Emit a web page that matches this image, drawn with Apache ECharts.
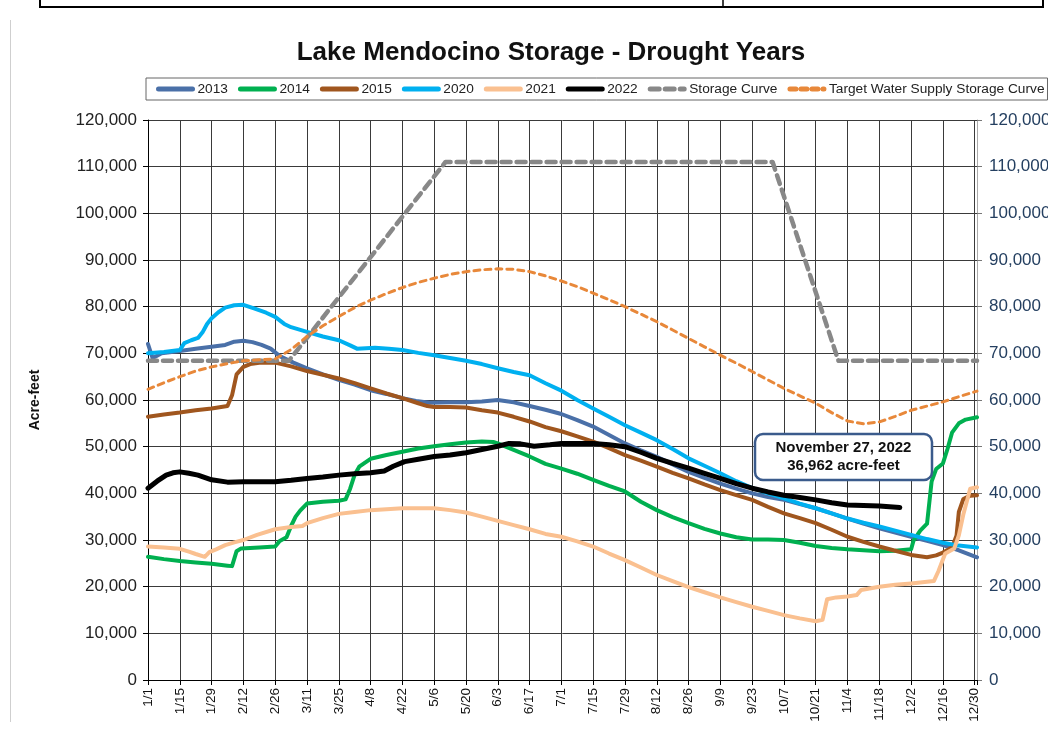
<!DOCTYPE html>
<html><head><meta charset="utf-8">
<script src="https://cdn.jsdelivr.net/npm/echarts@6/dist/echarts.min.js"></script>
<style>html,body{margin:0;padding:0;background:#fff}#c{width:1048px;height:729px}</style>
</head><body><div id="c"></div><script>
// x values are day-of-year offsets from 1/1 (leap-year calendar, ticks every 14 days)
const tickLabels = ['1/1','1/15','1/29','2/12','2/26','3/11','3/25','4/8','4/22','5/6','5/20','6/3','6/17','7/1','7/15','7/29','8/12','8/26','9/9','9/23','10/7','10/21','11/4','11/18','12/2','12/16','12/30'];
const seriesNames = ['2013','2014','2015','2020','2021','2022','Storage Curve','Target Water Supply Storage Curve'];

const s2013 = [[0,72000],[1,70500],[2,69000],[4,69500],[6,70000],[14,70500],[21,71000],[28,71400],[34,71800],[38,72500],[42,72700],[46,72400],[50,71800],[54,71000],[58,69400],[64,68000],[70,66800],[77,65500],[84,64300],[91,63300],[98,62100],[105,61300],[112,60400],[118,59800],[124,59400],[133,59500],[140,59500],[147,59700],[154,60000],[161,59500],[168,58700],[175,57900],[182,57000],[189,55700],[196,54300],[203,52500],[210,50700],[217,49200],[224,47800],[231,46200],[238,44600],[245,43300],[252,42100],[259,41000],[266,40000],[273,39200],[280,38600],[287,37700],[294,36800],[301,35700],[308,34600],[315,33500],[322,32500],[329,31600],[336,30700],[343,29800],[350,28900],[357,27800],[365,26300]];
const s2014 = [[0,26400],[7,25900],[14,25500],[21,25200],[28,24900],[35,24500],[37,24400],[39,27600],[41,28200],[49,28400],[56,28600],[58,29800],[61,30600],[63,33000],[65,35000],[67,36300],[70,37800],[77,38200],[84,38400],[87,38700],[89,41000],[91,44000],[93,45700],[98,47400],[105,48200],[112,48900],[119,49600],[126,50100],[133,50500],[140,50900],[147,51100],[152,51000],[154,50700],[161,49300],[168,47900],[175,46300],[182,45300],[189,44200],[196,42900],[203,41600],[210,40400],[217,38200],[224,36400],[231,34900],[238,33600],[245,32400],[252,31400],[259,30600],[266,30100],[273,30100],[280,30000],[287,29400],[294,28700],[301,28300],[308,28000],[315,27800],[322,27600],[329,27700],[336,28000],[337,29800],[340,32000],[343,33500],[345,42500],[347,45200],[350,46400],[352,49500],[354,53000],[357,55000],[360,55800],[365,56300]];
const s2015 = [[0,56400],[7,56900],[14,57300],[21,57800],[28,58200],[35,58700],[37,61000],[39,65500],[42,67100],[45,67700],[49,68000],[56,68000],[63,67200],[70,66200],[77,65400],[84,64600],[91,63600],[98,62500],[105,61400],[112,60400],[119,59300],[123,58700],[126,58500],[133,58500],[140,58400],[147,57800],[154,57300],[161,56400],[168,55400],[175,54200],[182,53300],[189,52200],[196,51100],[203,49700],[210,48200],[217,47000],[224,45700],[231,44400],[238,43200],[245,41900],[252,40700],[259,39600],[266,38600],[273,37100],[280,35700],[287,34700],[294,33600],[301,32200],[308,30700],[315,29600],[322,28600],[329,27700],[336,26800],[343,26300],[347,26700],[350,27300],[354,28400],[356,31000],[357,36000],[359,38800],[362,39500],[365,39600]];
const s2020 = [[0,70000],[7,70300],[14,70700],[16,72200],[19,72800],[22,73300],[24,74500],[26,76300],[28,77500],[31,78800],[34,79800],[38,80300],[42,80400],[47,79600],[52,78700],[56,77800],[60,76300],[63,75600],[70,74600],[77,73600],[84,72800],[89,71700],[92,71000],[96,71100],[100,71200],[106,71000],[112,70700],[119,70100],[126,69600],[133,69000],[140,68400],[147,67700],[154,66800],[161,66000],[168,65300],[175,63600],[182,62000],[189,60000],[196,58200],[203,56400],[210,54600],[217,53000],[224,51400],[231,49500],[238,47500],[245,45900],[252,44300],[259,42600],[266,41100],[273,40000],[280,38900],[287,37800],[294,36800],[301,35700],[308,34600],[315,33700],[322,32900],[329,32000],[336,31100],[343,30200],[350,29400],[357,28800],[365,28400]];
const s2021 = [[0,28600],[7,28400],[14,28100],[18,27500],[21,27000],[25,26400],[27,27400],[30,28000],[34,28900],[38,29500],[42,30000],[48,31100],[56,32300],[63,32800],[68,33000],[70,33600],[77,34700],[84,35600],[91,36000],[98,36400],[105,36600],[112,36800],[119,36800],[126,36800],[133,36400],[140,35900],[147,35000],[154,34100],[161,33200],[168,32300],[175,31300],[182,30700],[189,29700],[196,28600],[203,27100],[210,25700],[217,24100],[224,22500],[231,21200],[238,19900],[245,18800],[252,17700],[259,16700],[266,15700],[273,14800],[280,13900],[287,13200],[294,12600],[297,12900],[299,17300],[303,17700],[308,17900],[312,18200],[314,19300],[322,20000],[329,20400],[336,20700],[342,21000],[346,21200],[348,23300],[351,27100],[355,28200],[357,31000],[359,35500],[362,41000],[365,41300]];
const s2022 = [[0,41100],[4,42600],[8,43900],[11,44400],[14,44600],[18,44300],[22,43900],[28,42900],[35,42400],[42,42500],[49,42500],[56,42500],[63,42800],[70,43200],[77,43500],[84,43900],[91,44200],[98,44400],[104,44800],[108,45800],[113,46800],[119,47300],[126,47900],[133,48200],[140,48700],[147,49400],[154,50100],[159,50700],[164,50600],[170,50100],[177,50400],[182,50700],[189,50700],[196,50700],[203,50400],[210,50000],[217,48800],[224,47500],[231,46400],[238,45400],[245,44300],[252,43200],[259,42100],[266,41100],[273,40300],[280,39600],[287,39100],[294,38600],[301,38000],[308,37500],[315,37400],[322,37300],[331,36962]];
const sStorage = [[0,68400],[62,68400],[131,111000],[275,111000],[304,68400],[365,68400]];
const sTarget = [[0,62300],[7,63700],[14,65000],[21,66200],[28,67100],[35,67800],[42,68400],[49,68600],[56,68800],[63,70800],[70,73600],[77,75900],[84,77900],[91,79800],[98,81400],[105,82800],[112,84100],[119,85200],[126,86100],[133,86900],[140,87500],[147,87900],[154,88100],[161,88000],[168,87500],[175,86600],[182,85500],[189,84300],[196,82900],[203,81500],[210,80000],[217,78400],[224,76800],[231,75000],[238,73200],[245,71400],[252,69600],[259,67900],[266,66100],[273,64300],[280,62500],[287,60900],[294,59300],[301,57300],[308,55500],[315,54900],[322,55300],[329,56500],[336,57800],[343,58700],[350,59600],[357,60700],[365,61900]];
const annotationLines = ['November 27, 2022','36,962 acre-feet'];
const chartTitle = 'Lake Mendocino Storage - Drought Years';

const F = '"Liberation Sans", Arial, sans-serif';
const chart = echarts.init(document.getElementById('c'));

function mk(name, data, color, width, dash, z) {
  return {
    name, type: 'line', data, z, symbol: 'none', showSymbol: false, smooth: false,
    lineStyle: { color, width, type: dash || 'solid', cap: 'round', join: 'round' },
    itemStyle: { color }, emphasis: { disabled: true }, silent: true
  };
}

const option = {
  animation: false,
  backgroundColor: '#fff',
  textStyle: { fontFamily: F },
  grid: { left: 148, right: 71, top: 120, bottom: 49, outerBoundsMode: 'none', containLabel: false },
  legend: {
    left: 146, top: 78, width: 892, padding: [4, 3, 4, 10], itemGap: 10, itemWidth: 34, itemHeight: 14,
    borderColor: '#666', borderWidth: 1,
    itemStyle: { opacity: 0 },
    lineStyle: { width: 5 },
    textStyle: { fontSize: 13.7, color: '#222', fontFamily: F },
    data: seriesNames
  },
  xAxis: {
    type: 'value', min: 0, max: 365, interval: 14,
    axisLine: { lineStyle: { color: '#000', width: 1 } },
    axisTick: { show: true, length: 5, lineStyle: { color: '#000' } },
    axisLabel: { rotate: 90, fontSize: 13.5, color: '#111', margin: 8,
      formatter: v => (v % 14 === 0 && tickLabels[v / 14]) || '' },
    splitLine: { show: true, lineStyle: { color: '#3a3a3a', width: 1 } }
  },
  yAxis: [{
    type: 'value', min: 0, max: 120000, interval: 10000,
    name: 'Acre-feet', nameLocation: 'middle', nameGap: 106, nameRotate: 90,
    nameTextStyle: { fontWeight: 'bold', fontSize: 14, color: '#111' },
    axisLine: { show: true, lineStyle: { color: '#000' } },
    axisTick: { show: true, length: 5, lineStyle: { color: '#000' } },
    axisLabel: { fontSize: 17, color: '#222', margin: 11, formatter: v => v.toLocaleString('en-US') },
    splitLine: { show: true, lineStyle: { color: '#3a3a3a', width: 1 } }
  }, {
    type: 'value', min: 0, max: 120000, interval: 10000, position: 'right',
    axisLine: { show: true, lineStyle: { color: '#aaa' } },
    axisTick: { show: true, length: 5, lineStyle: { color: '#777' } },
    axisLabel: { fontSize: 17, color: '#243f60', margin: 12, formatter: v => v.toLocaleString('en-US') },
    splitLine: { show: false }
  }],
  series: [
    mk('2013', s2013, '#4a70a8', 4, null, 2),
    mk('2014', s2014, '#00b050', 4, null, 2),
    mk('2015', s2015, '#a0561e', 4, null, 2),
    mk('2020', s2020, '#00b0f0', 4, null, 2),
    mk('2021', s2021, '#fac090', 4, null, 2),
    mk('2022', s2022, '#000000', 5, null, 3),
    mk('Storage Curve', sStorage, '#888888', 4.5, [9, 6], 2),
    mk('Target Water Supply Storage Curve', sTarget, '#e8883a', 3, [6, 5], 2)
  ],
  graphic: [
    { type: 'line', shape: { x1: 40, y1: 7, x2: 1043, y2: 7 }, style: { stroke: '#000', lineWidth: 2 } },
    { type: 'line', shape: { x1: 40, y1: 0, x2: 40, y2: 8 }, style: { stroke: '#000', lineWidth: 2 } },
    { type: 'line', shape: { x1: 723, y1: 0, x2: 723, y2: 8 }, style: { stroke: '#000', lineWidth: 1.5 } },
    { type: 'line', shape: { x1: 1043, y1: 0, x2: 1043, y2: 8 }, style: { stroke: '#000', lineWidth: 2 } },
    { type: 'line', shape: { x1: 10.5, y1: 20, x2: 10.5, y2: 722 }, style: { stroke: '#cfcfcf', lineWidth: 1 } },
    { type: 'text', x: 551, y: 53, style: { text: chartTitle, font: 'bold 26px "Liberation Sans", Arial, sans-serif', fill: '#111', align: 'center', verticalAlign: 'middle', textAlign: 'center', textVerticalAlign: 'middle' } },
    { type: 'rect', shape: { x: 755, y: 434, width: 177, height: 46, r: 8 }, style: { fill: '#fff', stroke: '#3b5b8c', lineWidth: 2.5 }, z: 50 },
    { type: 'text', x: 843.5, y: 448, z: 51, style: { text: annotationLines[0], font: 'bold 15px "Liberation Sans", Arial, sans-serif', fill: '#111', align: 'center', verticalAlign: 'middle', textAlign: 'center', textVerticalAlign: 'middle' } },
    { type: 'text', x: 843.5, y: 466, z: 51, style: { text: annotationLines[1], font: 'bold 15px "Liberation Sans", Arial, sans-serif', fill: '#111', align: 'center', verticalAlign: 'middle', textAlign: 'center', textVerticalAlign: 'middle' } }
  ]
};
chart.setOption(option);
</script></body></html>
